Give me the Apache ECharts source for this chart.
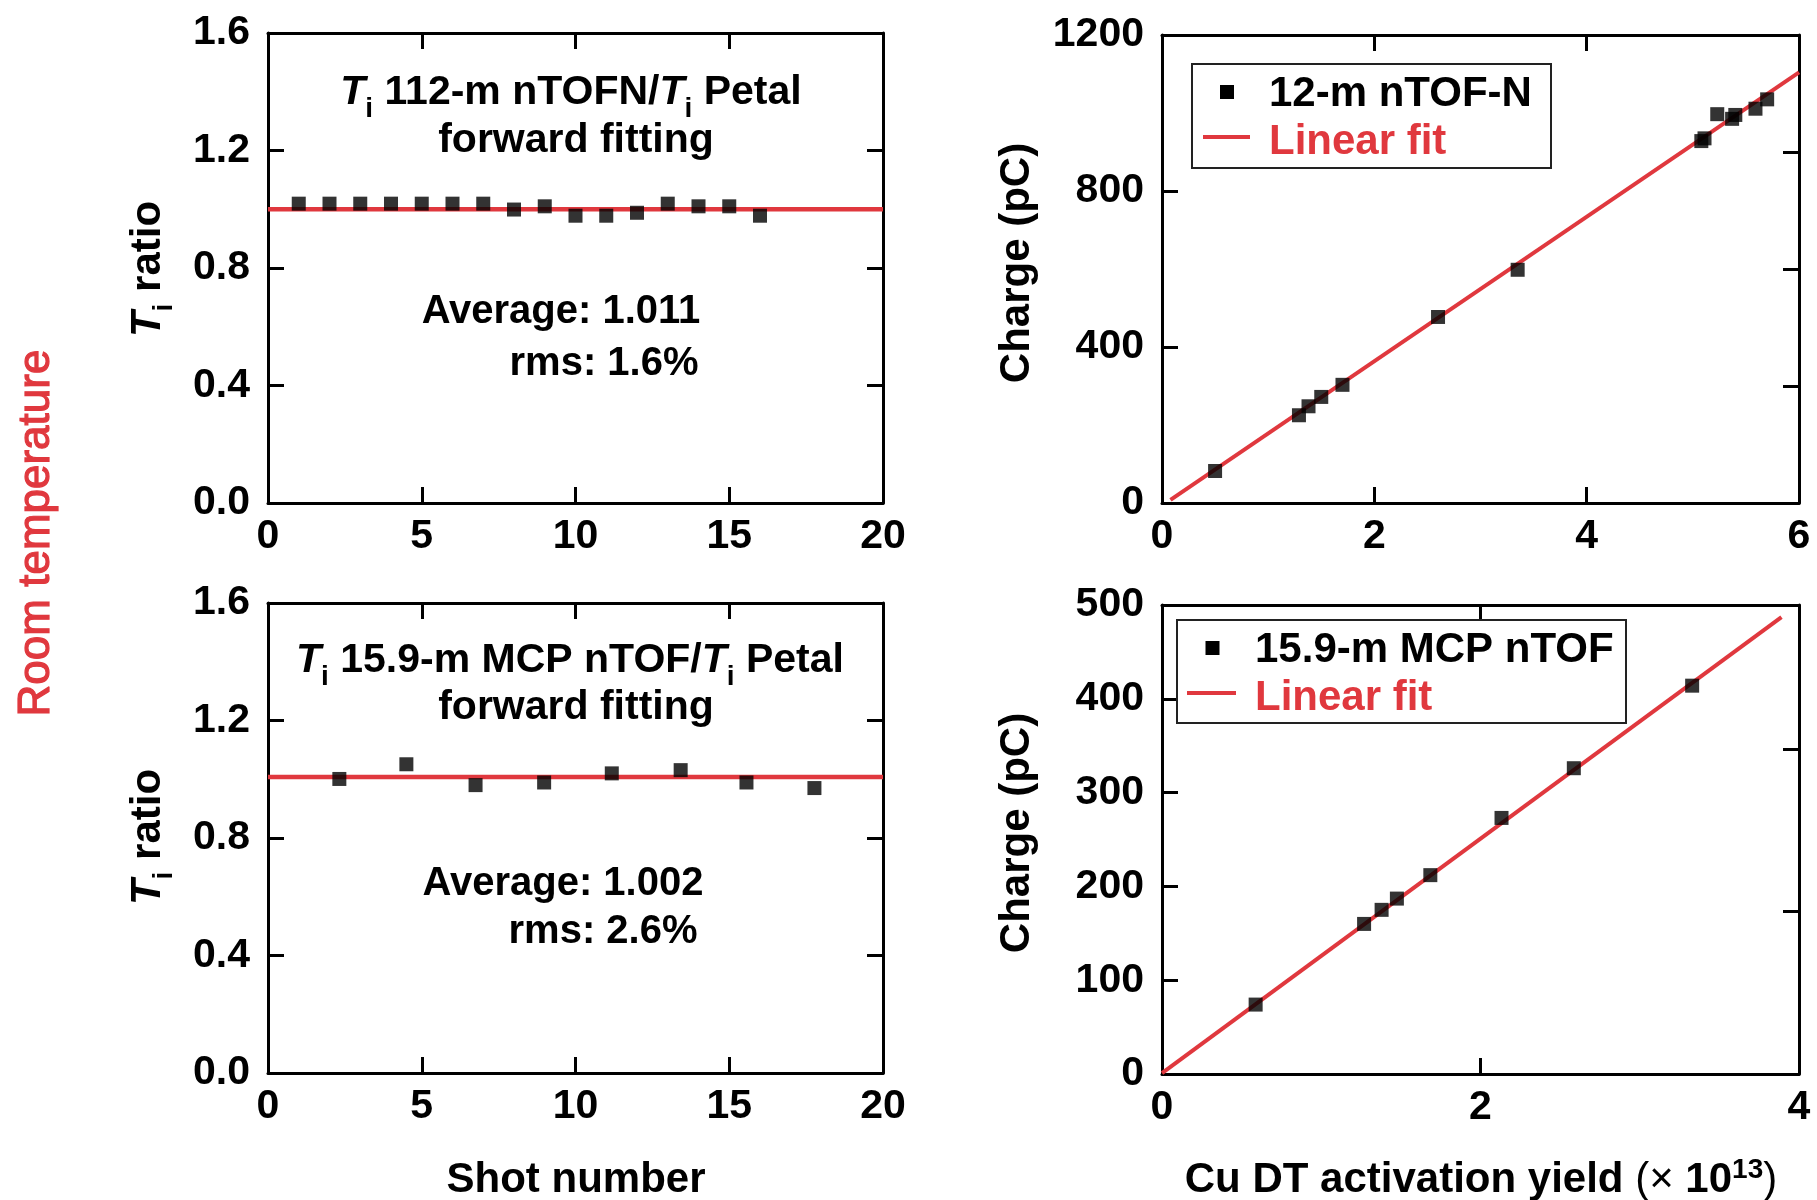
<!DOCTYPE html>
<html><head><meta charset="utf-8">
<script src="https://cdn.jsdelivr.net/npm/echarts@6/dist/echarts.min.js"></script>
<style>html,body{margin:0;padding:0;background:#fff}#c{width:1817px;height:1200px}</style>
</head><body><div id="c"></div><script>
const FONT = '"Liberation Sans", Arial, Helvetica, sans-serif';
const RED = '#e0383e';

// ---- Top-left: Ti 112-m nTOFN / Ti Petal ratio ----
const shotsTL = [1, 2, 3, 4, 5, 6, 7, 8, 9, 10, 11, 12, 13, 14, 15, 16];
const ratioTL = [1.019, 1.019, 1.019, 1.019, 1.019, 1.019, 1.019, 0.999, 1.010, 0.978, 0.978, 0.988, 1.019, 1.010, 1.010, 0.978];
const fitTLx = [0, 20];
const fitTLy = [1.0, 1.0];

// ---- Bottom-left: Ti 15.9-m MCP nTOF / Ti Petal ratio ----
const shotsBL = [2.32, 4.50, 6.75, 8.98, 11.18, 13.42, 15.56, 17.77];
const ratioBL = [1.001, 1.051, 0.980, 0.989, 1.020, 1.031, 0.989, 0.970];
const fitBLx = [0, 20];
const fitBLy = [1.008, 1.008];

// ---- Top-right: 12-m nTOF-N charge vs Cu DT yield ----
const yieldTR = [0.50, 1.29, 1.38, 1.50, 1.70, 2.60, 3.35, 5.08, 5.11, 5.23, 5.37, 5.40, 5.59, 5.70];
const chargeTR = [82, 225, 248, 272, 303, 477, 598, 928, 935, 997, 985, 995, 1011, 1035];
const fitTRx = [0.08, 6.0];
const fitTRy = [8, 1104];

// ---- Bottom-right: 15.9-m MCP nTOF charge vs Cu DT yield ----
const yieldBR = [0.588, 1.269, 1.379, 1.475, 1.685, 2.132, 2.586, 3.329];
const chargeBR = [74, 160, 175, 187, 212, 273, 326, 414];
const fitBRx = [0, 3.89];
const fitBRy = [1, 487];

// axis ranges / ticks
const shotAxis = [0, 20, 5];
const ratioAxis = [0, 1.6, 0.4];
const yieldAxisTop = [0, 6, 2];
const yieldAxisBot = [0, 4, 2];
const chargeAxisTop = [0, 1200, 400];
const chargeAxisBot = [0, 500, 100];
const chargeRightTop = [0, 1200, 300];
const chargeRightBot = [0, 500, 173.3];

const zip = (a, b) => a.map((v, i) => [v, b[i]]);

const chart = echarts.init(document.getElementById('c'), null, {renderer: 'canvas'});

const grids = [
  {left: 268, top: 33, width: 615, height: 470},
  {left: 1162, top: 35, width: 637, height: 468},
  {left: 268, top: 603, width: 615, height: 470},
  {left: 1162, top: 605, width: 637, height: 469}
];

function xAx(g, r, pos, labels, fmt) {
  return {
    type: 'value', gridIndex: g, position: pos, min: r[0], max: r[1], interval: r[2],
    axisLine: {show: true, onZero: false, lineStyle: {color: '#000', width: 3}},
    axisTick: {show: true, inside: true, length: 16, lineStyle: {color: '#000', width: 3}},
    splitLine: {show: false},
    axisLabel: {show: labels, color: '#000', fontFamily: FONT, fontWeight: 'bold', fontSize: 41,
      margin: 13, showMinLabel: true, showMaxLabel: true, hideOverlap: false,
      formatter: fmt || (v => String(v))}
  };
}
function yAx(g, r, pos, labels, fmt) {
  return {
    type: 'value', gridIndex: g, position: pos, min: r[0], max: r[1], interval: r[2],
    axisLine: {show: true, onZero: false, lineStyle: {color: '#000', width: 3}},
    axisTick: {show: true, inside: true, length: 16, lineStyle: {color: '#000', width: 3}},
    splitLine: {show: false},
    axisLabel: {show: labels, color: '#000', fontFamily: FONT, fontWeight: 'bold', fontSize: 41,
      margin: 18, showMinLabel: true, showMaxLabel: true, hideOverlap: false,
      formatter: fmt || (v => String(v))}
  };
}
const f1 = v => v.toFixed(1);

const xAxis = [
  xAx(0, shotAxis, 'bottom', true), xAx(0, shotAxis, 'top', false),
  xAx(1, yieldAxisTop, 'bottom', true), xAx(1, yieldAxisTop, 'top', false),
  xAx(2, shotAxis, 'bottom', true), xAx(2, shotAxis, 'top', false),
  xAx(3, yieldAxisBot, 'bottom', true), xAx(3, yieldAxisBot, 'top', false)
];
const yAxis = [
  yAx(0, ratioAxis, 'left', true, f1), yAx(0, ratioAxis, 'right', false),
  yAx(1, chargeAxisTop, 'left', true), yAx(1, chargeRightTop, 'right', false),
  yAx(2, ratioAxis, 'left', true, f1), yAx(2, ratioAxis, 'right', false),
  yAx(3, chargeAxisBot, 'left', true), yAx(3, chargeRightBot, 'right', false)
];

function fitSeries(name, xi, yi, xs, ys, w) {
  return {type: 'line', name, xAxisIndex: xi, yAxisIndex: yi, data: zip(xs, ys),
    symbol: 'none', lineStyle: {color: RED, width: w}, itemStyle: {color: RED}, z: 2, silent: true};
}
function scat(name, xi, yi, xs, ys) {
  return {type: 'scatter', name, xAxisIndex: xi, yAxisIndex: yi, data: zip(xs, ys),
    symbol: 'rect', symbolSize: 14, itemStyle: {color: '#000'}, z: 5, silent: true};
}

const series = [
  fitSeries('TL fit', 0, 0, fitTLx, fitTLy, 4.5),
  scat('TL ratio', 0, 0, shotsTL, ratioTL),
  fitSeries('Linear fit', 2, 2, fitTRx, fitTRy, 4),
  scat('12-m nTOF-N', 2, 2, yieldTR, chargeTR),
  fitSeries('BL fit', 4, 4, fitBLx, fitBLy, 4.5),
  scat('BL ratio', 4, 4, shotsBL, ratioBL),
  fitSeries('Linear fit ', 6, 6, fitBRx, fitBRy, 4),
  scat('15.9-m MCP nTOF', 6, 6, yieldBR, chargeBR)
];

// ---- text annotations ----
const richTi = (size) => ({
  it: {fontFamily: FONT, fontStyle: 'italic', fontWeight: 'bold', fontSize: size, lineHeight: 60, fill: '#000'},
  sub: {fontFamily: FONT, fontWeight: 'bold', fontSize: 28, lineHeight: 28, padding: [32, 0, 0, 0], verticalAlign: 'top', fill: '#000'},
  b: {fontFamily: FONT, fontWeight: 'bold', fontSize: size, lineHeight: 60, fill: '#000'}
});
function text(x, y, str, opt) {
  opt = opt || {};
  return {
    type: 'text', x, y, rotation: opt.rot || 0, z: 100,
    style: Object.assign({
      text: str, fill: opt.color || '#000', fontFamily: FONT,
      fontWeight: opt.weight || 'bold', fontSize: opt.size || 42,
      align: opt.align || 'center', verticalAlign: 'middle',
      textAlign: opt.align || 'center', textVerticalAlign: 'middle'
    }, opt.rich ? {rich: opt.rich} : {}, opt.stroke ? {stroke: opt.stroke, lineWidth: opt.strokeWidth} : {})
  };
}

const graphics = [
  // Top-left annotation
  text(571, 93, '{it|T}{sub|i}{b| 112-m nTOFN/}{it|T}{sub|i}{b| Petal}', {rich: richTi(41)}),
  text(576, 141, 'forward fitting', {size: 41}),
  text(561, 312, 'Average: 1.011', {size: 40}),
  text(604, 364, 'rms: 1.6%', {size: 40}),
  // Bottom-left annotation
  text(570, 661, '{it|T}{sub|i}{b| 15.9-m MCP nTOF/}{it|T}{sub|i}{b| Petal}', {rich: richTi(41)}),
  text(576, 708, 'forward fitting', {size: 41}),
  text(563, 884, 'Average: 1.002', {size: 40}),
  text(603, 932, 'rms: 2.6%', {size: 40}),
  // Y-axis names
  text(148, 269, '{it|T}{sub|i}{b| ratio}', {rot: Math.PI / 2, rich: richTi(42)}),
  text(148, 837, '{it|T}{sub|i}{b| ratio}', {rot: Math.PI / 2, rich: richTi(42)}),
  text(1017, 263, 'Charge (pC)', {rot: Math.PI / 2, size: 42}),
  text(1017, 833, 'Charge (pC)', {rot: Math.PI / 2, size: 42}),
  // Row label
  text(37, 533, 'Room temperature', {rot: Math.PI / 2, size: 44, weight: 'normal', color: RED, stroke: RED, strokeWidth: 1.2}),
  // X-axis names
  text(576, 1180, 'Shot number', {size: 42}),
  text(1481, 1180, '{b|Cu DT activation yield }{n|(× }{b|10}{sup|13}{n|)}', {rich: {
    b: {fontFamily: FONT, fontWeight: 'bold', fontSize: 42, lineHeight: 48, fill: '#000'},
    n: {fontFamily: FONT, fontWeight: 'normal', fontSize: 42, lineHeight: 48, fill: '#000'},
    sup: {fontFamily: FONT, fontWeight: 'bold', fontSize: 28, lineHeight: 28, verticalAlign: 'top', fill: '#000'}
  }}),
  // Legend top-right
  {type: 'rect', z: 90, shape: {x: 1192, y: 64, width: 359, height: 104}, style: {fill: '#fff', stroke: '#222', lineWidth: 2}},
  {type: 'rect', z: 95, shape: {x: 1220, y: 85, width: 14, height: 14}, style: {fill: '#000'}},
  text(1269, 94, '12-m nTOF-N', {align: 'left', size: 42}),
  {type: 'line', z: 95, shape: {x1: 1203, y1: 137, x2: 1250, y2: 137}, style: {stroke: RED, lineWidth: 4}},
  text(1269, 142, 'Linear fit', {align: 'left', size: 42, color: RED}),
  // Legend bottom-right
  {type: 'rect', z: 90, shape: {x: 1177, y: 620, width: 449, height: 103}, style: {fill: '#fff', stroke: '#222', lineWidth: 2}},
  {type: 'rect', z: 95, shape: {x: 1205.5, y: 641, width: 14, height: 14}, style: {fill: '#000'}},
  text(1255, 650, '15.9-m MCP nTOF', {align: 'left', size: 42}),
  {type: 'line', z: 95, shape: {x1: 1187, y1: 693, x2: 1236, y2: 693}, style: {stroke: RED, lineWidth: 4}},
  text(1255, 698, 'Linear fit', {align: 'left', size: 42, color: RED})
];

chart.setOption({
  animation: false,
  backgroundColor: '#fff',
  textStyle: {fontFamily: FONT},
  grid: grids.map(g => Object.assign({show: false, containLabel: false, outerBoundsMode: 'none'}, g)),
  xAxis, yAxis, series,
  graphic: {elements: graphics}
});
</script></body></html>
